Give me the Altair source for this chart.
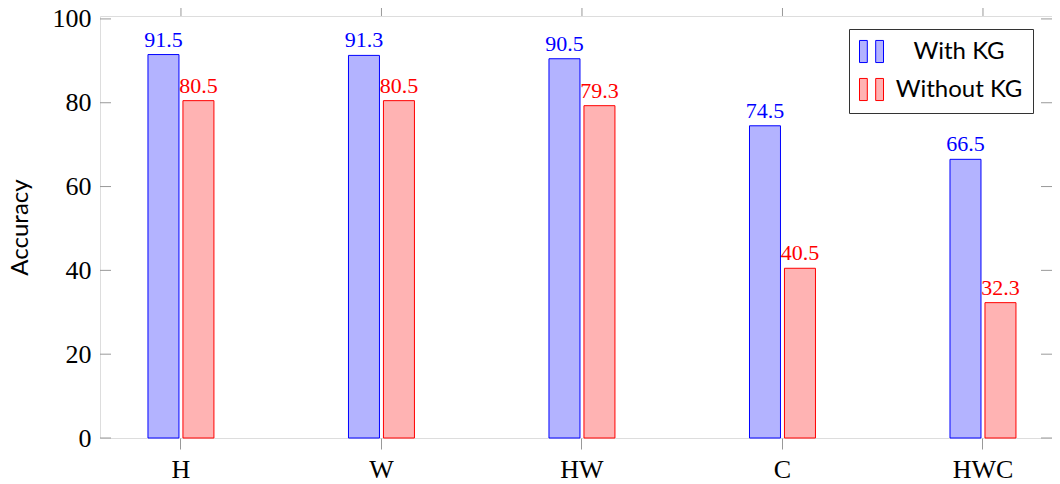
import altair as alt
import pandas as pd

categories = ["H", "W", "HW", "C", "HWC"]
groups = ["With KG", "Without KG"]
with_kg = [91.5, 91.3, 90.5, 74.5, 66.5]
without_kg = [80.5, 80.5, 79.3, 40.5, 32.3]
y_ticks = [0, 20, 40, 60, 80, 100]

rows = []
for c, a, b in zip(categories, with_kg, without_kg):
    rows.append({"cat": c, "group": groups[0], "value": a, "label": f"{a:.1f}"})
    rows.append({"cat": c, "group": groups[1], "value": b, "label": f"{b:.1f}"})
df = pd.DataFrame(rows)
ticks_df = pd.DataFrame({"v": y_ticks})
cats_df = pd.DataFrame({"cat": categories})

W, H = 952, 422
SERIF = "Liberation Serif"
SANS = "Lato"

x_scale = alt.Scale(domain=categories, paddingInner=0.671, paddingOuter=0.2095, align=0.571)
y_scale = alt.Scale(domain=[0, 100.7], nice=False, zero=True)

legend = alt.Legend(
    title=None, orient="none", legendX=749, legendY=13,
    symbolType="M-1,-0.92H-0.35V0.92H-1Z M0.35,-0.92H1V0.92H0.35Z",
    symbolSize=576, symbolStrokeWidth=1, symbolOpacity=1,
    labelFont=SANS, labelFontSize=24, labelColor="black",
    labelAlign="center", labelOffset=75,
    strokeColor="#333333", fillColor="white", padding=10, rowPadding=11,
)

x_enc = alt.X("cat:N", scale=x_scale, sort=categories,
              axis=alt.Axis(title=None, labelAngle=0, tickSize=11, tickColor="#999999",
                            tickWidth=1, domain=False, labelFont=SERIF, labelFontSize=26,
                            labelColor="black", labelPadding=7))
y_enc = alt.Y("value:Q", scale=y_scale,
              axis=alt.Axis(values=y_ticks, ticks=False, tickSize=0, domain=False, grid=False,
                            labelFont=SERIF, labelFontSize=26, labelColor="black",
                            labelPadding=9, title="Accuracy", titleFont=SANS,
                            titleFontSize=24, titleFontWeight="normal", titleColor="black",
                            titlePadding=20))

bars = alt.Chart(df).mark_bar(strokeWidth=1, opacity=1).encode(
    x=x_enc,
    xOffset=alt.XOffset("group:N", sort=groups,
                        scale=alt.Scale(domain=groups, paddingInner=0.114, paddingOuter=0)),
    y=y_enc,
    fill=alt.Fill("group:N", sort=groups,
                  scale=alt.Scale(domain=groups, range=["#b3b3ff", "#ffb3b3"]), legend=legend),
    stroke=alt.Stroke("group:N", sort=groups,
                      scale=alt.Scale(domain=groups, range=["#0000ff", "#ff0000"]), legend=legend),
)

labels = alt.Chart(df).mark_text(font=SERIF, fontSize=22, baseline="alphabetic", dy=-8).encode(
    x=alt.X("cat:N", sort=categories),
    xOffset=alt.XOffset("group:N", sort=groups),
    y=alt.Y("value:Q"),
    text="label:N",
    color=alt.Color("group:N", sort=groups,
                    scale=alt.Scale(domain=groups, range=["#0000ff", "#ff0000"]), legend=None),
)

left_ticks = alt.Chart(ticks_df).mark_rule(color="#999999", strokeWidth=1).encode(
    y=alt.Y("v:Q"), x=alt.value(0), x2=alt.value(11))
right_ticks = alt.Chart(ticks_df).mark_rule(color="#999999", strokeWidth=1).encode(
    y=alt.Y("v:Q"), x=alt.value(W - 11), x2=alt.value(W))
top_ticks = alt.Chart(cats_df).mark_rule(color="#999999", strokeWidth=1).encode(
    x=alt.X("cat:N", sort=categories), y=alt.value(-11), y2=alt.value(0))

chart = alt.layer(bars, labels, left_ticks, right_ticks, top_ticks).properties(
    width=W, height=H,
    autosize=alt.AutoSizeParams(type="none"),
    padding={"left": 92, "top": 8, "right": 0, "bottom": 44},
).configure_view(stroke="#333333", strokeWidth=1.2).configure(background="white")

chart.save("out.html", embed_options={"renderer": "svg", "actions": False})
